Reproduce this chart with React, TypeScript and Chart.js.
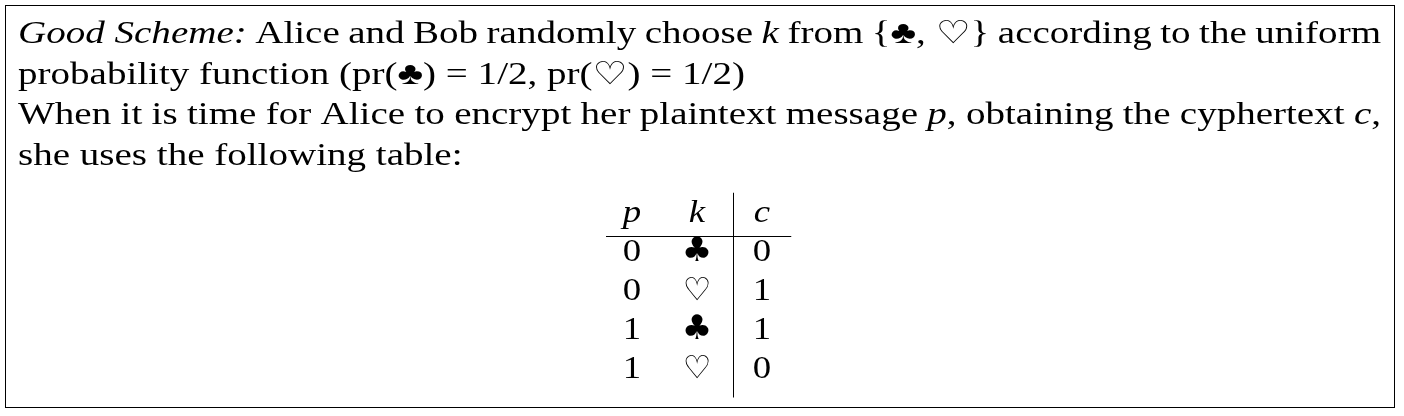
import { Chart, registerables } from 'chart.js'
import { useEffect, useRef } from 'react'

Chart.register(...registerables)

// paragraph lines, _x_ marks italic pieces, ~ is a space that does not stretch
const LINES = [
  '_Good~Scheme:_ Alice and Bob randomly choose _k_ from {♣,~♡} according to the uniform',
  'probability function (pr(♣)~=~1/2,~pr(♡)~=~1/2)',
  'When it is time for Alice to encrypt her plaintext message _p_, obtaining the cyphertext _c_,',
  'she uses the following table:',
]
const JUSTIFY = [true, false, true, false]

// table
const HEADERS = ['p', 'k', 'c']
const P_COL = ['0', '0', '1', '1']
const K_COL = ['♣', '♡', '♣', '♡']
const C_COL = ['0', '1', '1', '0']

const FONT = '"Liberation Serif", "DejaVu Serif", serif'
const SIZE = 32
const SX = 1.22

function drawWord(ctx: CanvasRenderingContext2D, word: string, x: number, y: number, measureOnly = false) {
  const parts = word.replace(/~/g, ' ').split('_')
  let w = 0
  parts.forEach((part, i) => {
    if (!part) return
    ctx.font = `${i % 2 ? 'italic ' : ''}${SIZE}px ${FONT}`
    if (!measureOnly) {
      ctx.save()
      ctx.translate(x + w, y)
      ctx.scale(SX, 1)
      ctx.fillText(part, 0, 0)
      ctx.restore()
    }
    w += ctx.measureText(part).width * SX
  })
  return w
}

const textPlugin = {
  id: 'textPlugin',
  afterDraw(chart: Chart) {
    const ctx = chart.ctx
    const xs = chart.scales.x
    const ys = chart.scales.y
    ctx.save()
    ctx.fillStyle = '#000'
    ctx.strokeStyle = '#000'
    ctx.lineWidth = 1
    ctx.strokeRect(5.5, 5.5, 1389, 402)
    ctx.textBaseline = 'alphabetic'
    ctx.textAlign = 'left'
    const left = 18, right = 1381
    LINES.forEach((line, li) => {
      const y = 43 + li * 40.7
      const words = line.split(' ')
      const widths = words.map(w => drawWord(ctx, w, 0, 0, true))
      const total = widths.reduce((a, b) => a + b, 0)
      ctx.font = `${SIZE}px ${FONT}`
      const gap = JUSTIFY[li] ? (right - left - total) / (words.length - 1) : ctx.measureText(' ').width * SX
      let x = left
      words.forEach((w, i) => { drawWord(ctx, w, x, y); x += widths[i] + gap })
    })
    // table cells via scales
    ctx.textAlign = 'center'
    const cols = [P_COL, K_COL, C_COL]
    HEADERS.forEach((h, c) => {
      const cx = xs.getPixelForValue(c)
      ctx.font = `italic ${SIZE}px ${FONT}`
      ctx.save(); ctx.translate(cx, ys.getPixelForValue(0)); ctx.scale(1.15, 1); ctx.fillText(h, 0, 0); ctx.restore()
      cols[c].forEach((v, r) => {
        const sym = v === '♣' || v === '♡'
        ctx.font = `${v === '♣' ? 34 : SIZE}px ${sym ? '"DejaVu Sans"' : FONT}`
        ctx.save(); ctx.translate(cx, ys.getPixelForValue(r + 1)); ctx.scale(sym ? 1 : 1.15, 1); ctx.fillText(v, 0, 0); ctx.restore()
      })
    })
    const hy = Math.round(ys.getPixelForValue(0.35)) + 0.5
    ctx.beginPath()
    ctx.moveTo(xs.getPixelForValue(-0.4), hy)
    ctx.lineTo(xs.getPixelForValue(2.45), hy)
    const vx = Math.round(xs.getPixelForValue(1.55)) + 0.5
    ctx.moveTo(vx, ys.getPixelForValue(-0.75))
    ctx.lineTo(vx, ys.getPixelForValue(4.5))
    ctx.stroke()
    ctx.restore()
  },
}

export default function App() {
  const canvasRef = useRef<HTMLCanvasElement>(null)
  const chartRef = useRef<Chart | null>(null)

  useEffect(() => {
    document.body.style.margin = '0'
    if (!canvasRef.current) return
    if (chartRef.current) chartRef.current.destroy()
    chartRef.current = new Chart(canvasRef.current, {
      type: 'scatter',
      data: { datasets: [{ data: [], pointRadius: 0 }] },
      options: {
        responsive: false,
        animation: false,
        devicePixelRatio: 1,
        layout: { padding: 0 },
        plugins: { legend: { display: false }, tooltip: { enabled: false } },
        scales: {
          x: { type: 'linear', display: false, min: -632 / 65, max: (1404 - 632) / 65 },
          y: { type: 'linear', display: false, reverse: true, min: -222 / 39, max: (416 - 222) / 39 },
        },
      },
      plugins: [textPlugin],
    })
    return () => { if (chartRef.current) chartRef.current.destroy() }
  }, [])

  return <canvas ref={canvasRef} width={1404} height={416} style={{ display: 'block', background: '#fff' }} />
}
